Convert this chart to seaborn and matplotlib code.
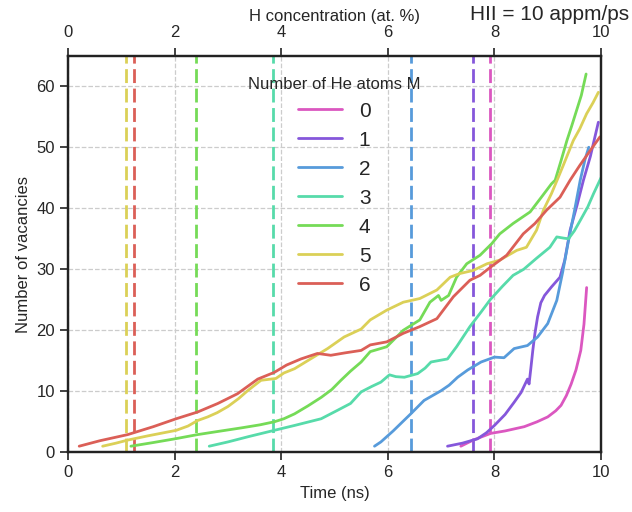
import pandas as pd
import matplotlib
matplotlib.use("Agg")
import matplotlib.pyplot as plt
import seaborn as sns

# number of He atoms per series
m_values = [0, 1, 2, 3, 4, 5, 6]

# time (ns) / number of vacancies
t0 = [7.37, 7.6, 7.93, 8.2, 8.56, 8.8, 9.0, 9.15, 9.25, 9.35, 9.44, 9.53, 9.62, 9.68, 9.73]
v0 = [1, 2, 3.1, 3.5, 4.2, 5.0, 5.8, 6.8, 7.7, 9.3, 11.2, 13.5, 16.7, 21, 27]

t1 = [7.12, 7.4, 7.68, 7.85, 8.0, 8.2, 8.37, 8.5, 8.62, 8.65, 8.68, 8.72, 8.76, 8.81, 8.87,
      8.94, 9.07, 9.23, 9.32, 9.42, 9.55, 9.67, 9.8, 9.95]
v1 = [1, 1.5, 2.2, 3.2, 4.4, 6.2, 8.2, 9.8, 12.0, 11.2, 13.5, 16.7, 19.5, 22.2, 24.5,
      25.7, 27.1, 28.7, 31.5, 36.4, 40.5, 44.6, 48.5, 54.1]

t2 = [5.75, 5.87, 6.1, 6.3, 6.43, 6.68, 7.0, 7.15, 7.31, 7.5, 7.75, 8.0, 8.18, 8.37, 8.62,
      8.81, 9.0, 9.17, 9.28, 9.39, 9.5, 9.61, 9.7, 9.77]
v2 = [1, 1.7, 3.5, 5.2, 6.3, 8.5, 10.1, 11.0, 12.3, 13.5, 14.8, 15.6, 15.5, 17, 17.5,
      18.9, 21.1, 24.9, 29.5, 34.7, 39.5, 44.6, 48, 50]

t3 = [2.65, 3.0, 3.4, 3.87, 4.25, 4.75, 5.06, 5.3, 5.5, 5.7, 5.87, 6.03, 6.15, 6.31, 6.56,
      6.7, 6.81, 7.12, 7.29, 7.54, 7.75, 7.92, 8.15, 8.35, 8.55, 8.79, 9.04, 9.17, 9.3, 9.39,
      9.5, 9.61, 9.75, 9.86, 10.0]
v3 = [1, 1.7, 2.6, 3.6, 4.4, 5.5, 6.9, 8.0, 9.9, 10.8, 11.5, 12.7, 12.4, 12.3, 12.9,
      13.8, 14.8, 15.3, 17.3, 20.6, 23.0, 25.0, 27.2, 29.0, 30.0, 31.8, 33.6, 35.3, 35.1, 35.0,
      36.3, 38.0, 40.2, 42.4, 45]

t4 = [1.18, 1.6, 2.0, 2.43, 2.8, 3.25, 3.6, 3.87, 4.05, 4.25, 4.5, 4.75, 4.95, 5.12, 5.3,
      5.5, 5.67, 5.98, 6.29, 6.6, 6.79, 6.95, 7.0, 7.14, 7.29, 7.48, 7.73, 7.95, 8.1, 8.35,
      8.67, 8.88, 9.07, 9.14, 9.25, 9.36, 9.45, 9.54, 9.63, 9.72]
v4 = [1, 1.6, 2.2, 2.9, 3.4, 4.0, 4.5, 5.0, 5.5, 6.3, 7.6, 9.0, 10.3, 11.8, 13.3,
      14.8, 16.5, 17.3, 20.0, 21.7, 24.6, 25.7, 24.9, 25.7, 28.7, 30.9, 32.3, 34.2, 35.8, 37.5,
      39.4, 41.8, 44.0, 44.6, 47.8, 51.1, 53.5, 56.0, 58.5, 62]

t5 = [0.65, 0.9, 1.12, 1.5, 2.03, 2.25, 2.43, 2.62, 2.8, 3.0, 3.2, 3.37, 3.62, 3.9, 4.05,
      4.25, 4.55, 4.87, 5.18, 5.5, 5.67, 5.98, 6.29, 6.6, 6.92, 7.17, 7.35, 7.6, 7.86, 8.1,
      8.42, 8.6, 8.79, 8.92, 9.07, 9.2, 9.29, 9.48, 9.6, 9.73, 9.85, 9.95]
v5 = [1, 1.5, 2.0, 2.7, 3.6, 4.3, 5.2, 5.8, 6.5, 7.5, 8.8, 10.1, 11.8, 12.1, 13.0,
      13.7, 15.3, 17.0, 18.9, 20.2, 21.7, 23.3, 24.6, 25.2, 26.6, 28.7, 29.3, 29.8, 30.9, 31.5,
      33.1, 33.6, 36.4, 39.7, 42.4, 45.1, 47.0, 51.1, 53.0, 55.5, 57.3, 59]

t6 = [0.21, 0.6, 1.12, 1.6, 2.03, 2.43, 2.81, 3.18, 3.56, 3.87, 4.1, 4.37, 4.68, 4.93, 5.2,
      5.5, 5.67, 5.98, 6.29, 6.6, 6.92, 7.23, 7.54, 7.73, 7.92, 8.23, 8.54, 8.76, 8.98, 9.23,
      9.42, 9.6, 9.8, 9.98]
v6 = [1, 1.9, 2.9, 4.2, 5.5, 6.6, 8.0, 9.6, 12.0, 13.1, 14.3, 15.3, 16.2, 15.9, 16.3,
      16.7, 17.6, 18.1, 19.5, 20.6, 21.9, 25.5, 28.2, 29.0, 30.3, 32.3, 35.8, 37.5, 39.7, 41.8,
      44.6, 47.0, 49.5, 51.7]

# onset times (vertical dashed markers) for each M
onset = [7.92, 7.59, 6.43, 3.84, 2.41, 1.08, 1.23]

times = [t0, t1, t2, t3, t4, t5, t6]
vacs = [v0, v1, v2, v3, v4, v5, v6]

rows = []
for m, ts, vs in zip(m_values, times, vacs):
    for t, v in zip(ts, vs):
        rows.append({"Time": t, "Vacancies": v, "M": str(m)})
df = pd.DataFrame(rows)

palette = sns.color_palette("hls", 7)[::-1]

sns.set_style("ticks", {"grid.linestyle": "--", "grid.color": "#cccccc",
                        "axes.edgecolor": "#222222"})
plt.rcParams["font.family"] = ["Liberation Sans", "DejaVu Sans"]

fig = plt.figure(figsize=(6.32, 5.12), dpi=100)
ax = fig.add_axes([0.1076, 0.1166, 0.8434, 0.7746])

for x, c in zip(onset, palette):
    ax.axvline(x, color=c, ls="--", lw=2.0, dashes=(5, 2), zorder=1)

sns.lineplot(data=df, x="Time", y="Vacancies", hue="M", palette=palette,
             estimator=None, sort=False, lw=2.0, ax=ax, zorder=3)

ax.set_xlim(0, 10)
ax.set_ylim(0, 65)
ax.set_xticks([0, 2, 4, 6, 8, 10])
ax.set_yticks([0, 10, 20, 30, 40, 50, 60])
ax.grid(True, lw=0.9)
ax.set_xlabel("Time (ns)", fontsize=12)
ax.set_ylabel("Number of vacancies", fontsize=12)
ax.tick_params(labelsize=12, length=6, width=1.3, direction="out", color="#333333")
for s in ax.spines.values():
    s.set_linewidth(1.6)

ax2 = ax.twiny()
ax2.set_xlim(0, 10)
ax2.set_xticks([0, 2, 4, 6, 8, 10])
ax2.set_xlabel("H concentration (at. %)", fontsize=12, labelpad=3)
ax2.tick_params(labelsize=12, length=6, width=1.3, pad=5, direction="out", color="#333333")
for s in ax2.spines.values():
    s.set_linewidth(1.6)

leg = ax.legend(title="Number of He atoms M", loc="upper center", frameon=False,
                fontsize=15, title_fontsize=12, labelspacing=0.48, handlelength=2.1,
                borderaxespad=0.6)
for h in leg.get_lines():
    h.set_linewidth(2.0)

fig.text(0.995, 0.99, "HII = 10 appm/ps", ha="right", va="top", fontsize=15)

fig.savefig("out.png", dpi=100)
